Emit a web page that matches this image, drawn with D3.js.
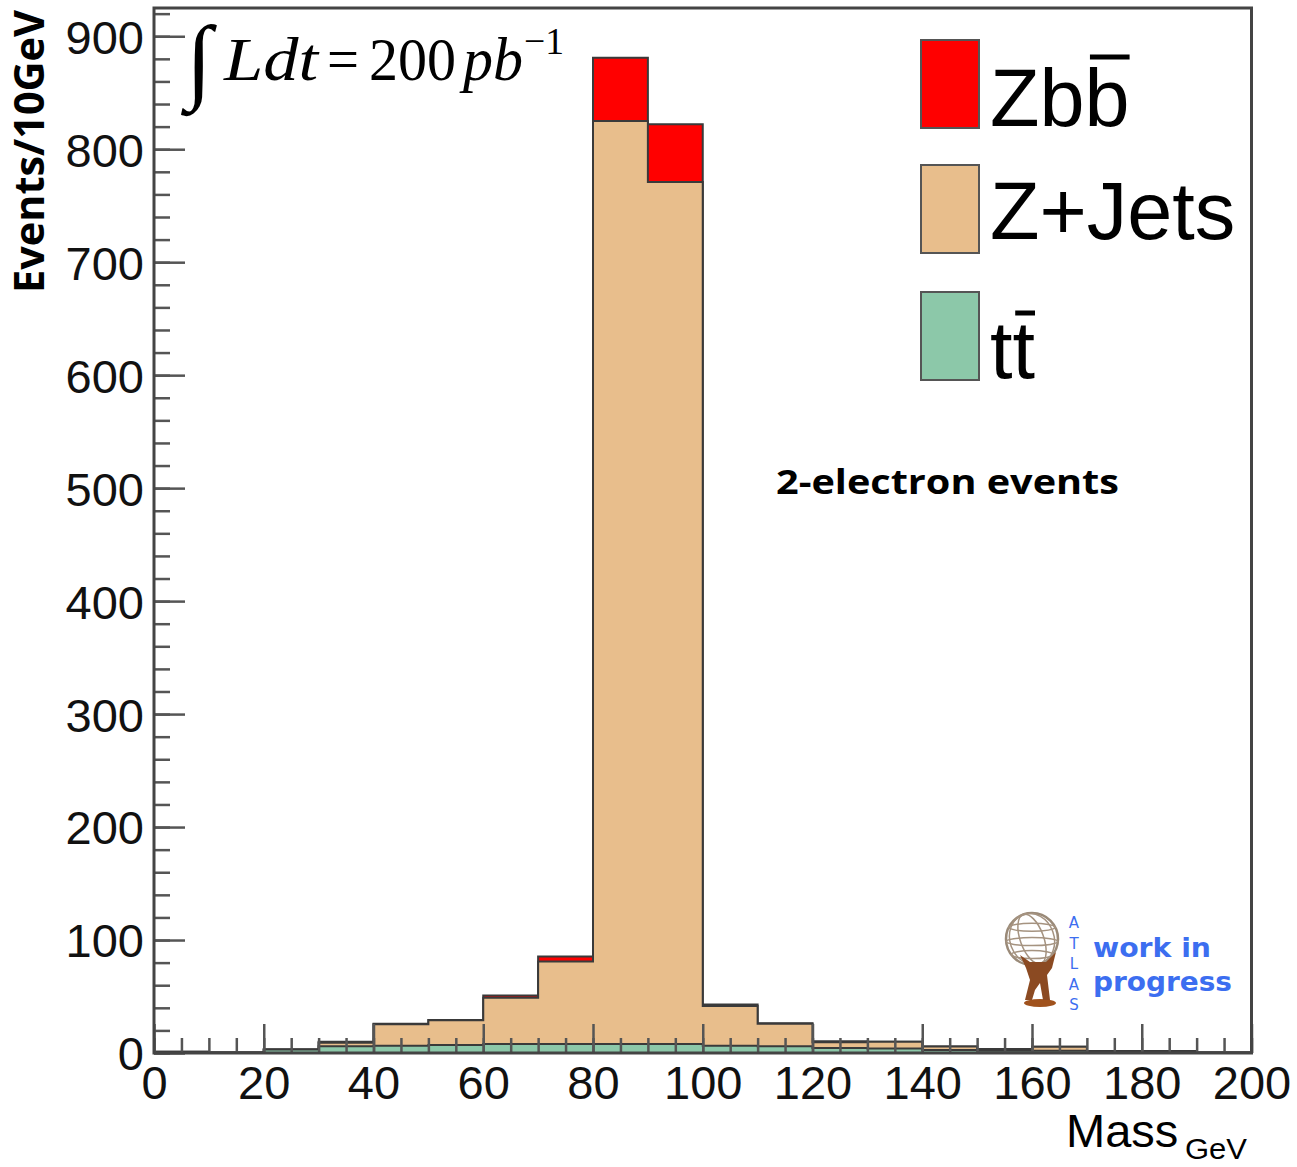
<!DOCTYPE html>
<html>
<head>
<meta charset="utf-8">
<script src="https://cdn.jsdelivr.net/npm/d3@7"></script>
<style>
    body { margin: 0; background: #fff; }
    svg { display: block; }
</style>
</head>
<body>
<svg id="chart"></svg>
<script>
// bin lower edges (GeV), 10 GeV wide
const binLow = [0, 10, 20, 30, 40, 50, 60, 70, 80, 90, 100, 110, 120, 130, 140, 150, 160, 170, 180, 190];
const binWidth = 10;

// events per bin
const ttbar = [0.2, 0.5, 3, 6, 6.5, 7, 8, 8, 8, 8, 6.5, 6, 4.5, 4, 2.7, 2, 2, 1.5, 1.5, 0.5];
const zjets = [0.8, 0, 0, 3, 19, 22, 41, 73, 817, 763, 35, 20, 5, 6, 3, 1.5, 3.6, 0.3, 0.3, 0];
const zbb   = [0, 0, 0, 1, 0.3, 0.3, 2, 4.5, 56, 51, 1.5, 0.3, 1, 0, 0, 0, 0, 0, 0, 0];

const seriesKeys = ['ttbar', 'zjets', 'zbb'];
const seriesColors = { ttbar: '#8cc8a9', zjets: '#e8be8c', zbb: '#ff0000' };

const xMajorTicks = [0, 20, 40, 60, 80, 100, 120, 140, 160, 180, 200];
const yMajorTicks = [0, 100, 200, 300, 400, 500, 600, 700, 800, 900];

const W = 1297, H = 1167;
const frame = { left: 154, right: 1251.5, top: 8, bottom: 1053 };

const svg = d3.select('#chart')
    .attr('width', W)
    .attr('height', H);

const x = d3.scaleLinear()
    .domain([0, 200])
    .range([frame.left, frame.right]);

const y = d3.scaleLinear()
    .domain([0, 925])
    .range([frame.bottom, frame.top]);

const rows = binLow.map((b, i) => ({ low: b, ttbar: ttbar[i], zjets: zjets[i], zbb: zbb[i] }));
const stacked = d3.stack().keys(seriesKeys)(rows);

const stepArea = d3.area()
    .x(d => x(d.x))
    .y0(y(0))
    .y1(d => y(d.v))
    .curve(d3.curveStepAfter);

// THStack style: each cumulative layer drawn from zero, top layer first
stacked.slice().reverse().forEach(layer => {
    const pts = layer.map(d => ({ x: d.data.low, v: d[1] }));
    pts.push({ x: binLow[binLow.length - 1] + binWidth, v: layer[layer.length - 1][1] });
    svg.append('path')
        .attr('d', stepArea(pts))
        .attr('fill', seriesColors[layer.key])
        .attr('stroke', '#3a3a3a')
        .attr('stroke-width', 2);
});

// axes, ticks drawn inward
const tickColor = '#555';
const labelFont = 'Liberation Sans, Arial, sans-serif';

const xMinor = svg.append('g')
    .attr('transform', `translate(0,${frame.bottom})`)
    .call(d3.axisBottom(x).tickValues(x.ticks(40)).tickSize(-15).tickFormat(''));

const xMajor = svg.append('g')
    .attr('transform', `translate(0,${frame.bottom})`)
    .call(d3.axisBottom(x).tickValues(xMajorTicks).tickSize(-29).tickPadding(13).tickFormat(d3.format('d')));

const yMinor = svg.append('g')
    .attr('transform', `translate(${frame.left},0)`)
    .call(d3.axisLeft(y).tickValues(y.ticks(46)).tickSize(-16).tickFormat(''));

const yMajor = svg.append('g')
    .attr('transform', `translate(${frame.left},0)`)
    .call(d3.axisLeft(y).tickValues(yMajorTicks).tickSize(-31).tickPadding(10).tickFormat(d3.format('d')));

[xMinor, xMajor, yMinor, yMajor].forEach(g => {
    g.select('.domain').remove();
    g.selectAll('line').attr('stroke', tickColor).attr('stroke-width', 2.5);
    g.selectAll('text')
        .attr('fill', '#111')
        .style('font-family', labelFont)
        .style('font-size', '47px');
});
yMajor.selectAll('text').attr('dy', '0.36em');

// frame
svg.append('rect')
    .attr('x', frame.left)
    .attr('y', frame.top)
    .attr('width', frame.right - frame.left)
    .attr('height', frame.bottom - frame.top)
    .attr('fill', 'none')
    .attr('stroke', '#444')
    .attr('stroke-width', 3);

// axis titles
svg.append('text')
    .attr('transform', 'translate(44,293) rotate(-90)')
    .attr('textLength', 283)
    .attr('lengthAdjust', 'spacingAndGlyphs')
    .style('font-family', 'Open Sans, sans-serif')
    .style('font-weight', 'bold')
    .style('font-size', '42px')
    .text('Events/10GeV');

svg.append('text')
    .attr('x', 1066)
    .attr('y', 1147)
    .style('font-family', labelFont)
    .style('font-size', '47px')
    .text('Mass');

svg.append('text')
    .attr('x', 1185)
    .attr('y', 1159)
    .attr('textLength', 62)
    .attr('lengthAdjust', 'spacingAndGlyphs')
    .style('font-family', labelFont)
    .style('font-size', '30px')
    .text('GeV');

// luminosity
const serif = 'Liberation Serif, Times New Roman, serif';
svg.append('text')
    .attr('x', 186)
    .attr('y', 91)
    .attr('textLength', 26)
    .attr('lengthAdjust', 'spacingAndGlyphs')
    .style('font-family', serif)
    .style('font-size', '94px')
    .text('\u222B');

const lumi = [
    { t: 'Ldt', x: 224, yb: 80, s: 62, it: true, w: 94 },
    { t: '=', x: 327, yb: 80, s: 62, it: false, w: 32 },
    { t: '200', x: 369, yb: 80, s: 62, it: false, w: 87 },
    { t: 'pb', x: 463, yb: 80, s: 62, it: true, w: 60 },
    { t: '\u22121', x: 524, yb: 54, s: 38, it: false, w: 40 }
];
svg.selectAll('.lumi')
    .data(lumi)
    .join('text')
    .attr('class', 'lumi')
    .attr('x', d => d.x)
    .attr('y', d => d.yb)
    .attr('textLength', d => d.w)
    .attr('lengthAdjust', 'spacingAndGlyphs')
    .style('font-family', serif)
    .style('font-size', d => d.s + 'px')
    .style('font-style', d => d.it ? 'italic' : 'normal')
    .text(d => d.t);

// legend
const legendItems = [
    { key: 'zbb', label: 'Zbb', bar: 2, y0: 40, base: 126, lift: 69 },
    { key: 'zjets', label: 'Z+Jets', bar: -1, y0: 165, base: 239, lift: 0 },
    { key: 'ttbar', label: 'tt', bar: 1, y0: 292, base: 378, lift: 65 }
];

const legend = svg.append('g');
legendItems.forEach(item => {
    legend.append('rect')
        .attr('x', 921)
        .attr('y', item.y0)
        .attr('width', 58)
        .attr('height', 88)
        .attr('fill', seriesColors[item.key])
        .attr('stroke', '#555')
        .attr('stroke-width', 2);

    const txt = legend.append('text')
        .attr('x', 990)
        .attr('y', item.base)
        .style('font-family', labelFont)
        .style('font-size', '81px')
        .text(item.label);

    if (item.bar >= 0) {
        const node = txt.node();
        const start = node.getSubStringLength(0, item.bar);
        const len = node.getSubStringLength(item.bar, 1);
        legend.append('line')
            .attr('x1', 990 + start + len * 0.12)
            .attr('x2', 990 + start + len * 1.0)
            .attr('y1', item.base - item.lift)
            .attr('y2', item.base - item.lift)
            .attr('stroke', '#000')
            .attr('stroke-width', 5);
    }
});

svg.append('text')
    .attr('x', 776)
    .attr('y', 494)
    .attr('textLength', 343)
    .attr('lengthAdjust', 'spacingAndGlyphs')
    .style('font-family', 'Open Sans, sans-serif')
    .style('font-weight', 'bold')
    .style('font-size', '34px')
    .text('2-electron events');

// ATLAS work in progress badge
const badge = svg.append('g');
const gx = 1032, gy = 939, gr = 26;
badge.append('circle')
    .attr('cx', gx).attr('cy', gy).attr('r', gr)
    .attr('fill', 'none').attr('stroke', '#9a8a78').attr('stroke-width', 2.5);
[0.45, 0.85].forEach(f => {
    badge.append('ellipse')
        .attr('cx', gx).attr('cy', gy).attr('rx', gr * f).attr('ry', gr)
        .attr('transform', `rotate(-20,${gx},${gy})`)
        .attr('fill', 'none').attr('stroke', '#a59380').attr('stroke-width', 1.5);
});
[-0.45, 0.1, 0.6].forEach(f => {
    badge.append('ellipse')
        .attr('cx', gx).attr('cy', gy + gr * f).attr('rx', gr * Math.sqrt(1 - f * f)).attr('ry', 4)
        .attr('fill', 'none').attr('stroke', '#a59380').attr('stroke-width', 1.5);
});
badge.append('ellipse')
    .attr('cx', 1040).attr('cy', 1003).attr('rx', 16).attr('ry', 4)
    .attr('fill', '#a0521d');
badge.append('path')
    .attr('d', 'M1020,955 L1030,962 L1046,962 L1056,952 L1052,968 L1047,975 L1050,1000 L1043,1000 L1040,983 L1035,990 L1032,1000 L1025,1000 L1030,980 L1026,968 Z')
    .attr('fill', '#8b4a22');

const blue = '#3c6ef0';
['A', 'T', 'L', 'A', 'S'].forEach((c, i) => {
    badge.append('text')
        .attr('x', 1074)
        .attr('y', 928 + i * 20.5)
        .attr('text-anchor', 'middle')
        .attr('fill', blue)
        .style('font-family', 'DejaVu Sans, sans-serif')
        .style('font-size', '15px')
        .text(c);
});
badge.append('text')
    .attr('x', 1093).attr('y', 957)
    .attr('textLength', 118).attr('lengthAdjust', 'spacingAndGlyphs')
    .attr('fill', blue)
    .style('font-family', 'DejaVu Sans, sans-serif')
    .style('font-weight', 'bold')
    .style('font-size', '26px')
    .text('work in');
badge.append('text')
    .attr('x', 1093).attr('y', 991)
    .attr('textLength', 139).attr('lengthAdjust', 'spacingAndGlyphs')
    .attr('fill', blue)
    .style('font-family', 'DejaVu Sans, sans-serif')
    .style('font-weight', 'bold')
    .style('font-size', '26px')
    .text('progress');
</script>
</body>
</html>
